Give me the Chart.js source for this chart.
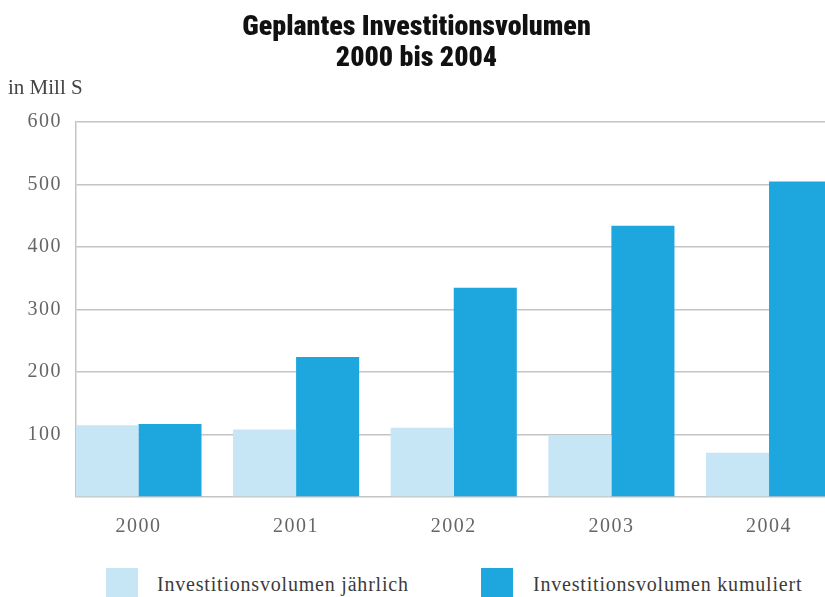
<!DOCTYPE html>
<html lang="de">
<head>
<meta charset="utf-8">
<title>Geplantes Investitionsvolumen 2000 bis 2004</title>
<script src="https://cdn.jsdelivr.net/npm/chart.js@4.4.1/dist/chart.umd.min.js"></script>
<style>
  html, body { margin: 0; padding: 0; background: #fff; overflow: hidden; }
  #wrap { position: relative; width: 825px; height: 597px; }
  #box { position: absolute; left: 0; top: 0; width: 825px; height: 545px; }
  .leg { position: absolute; font-family: 'Liberation Serif', 'DejaVu Serif', serif; font-size: 20px;
         color: #3b3b3b; letter-spacing: 0.8px; line-height: 24px; white-space: nowrap; }
  .sw { position: absolute; width: 32px; height: 32px; }
</style>
</head>
<body>
<div id="wrap">
  <div id="box"><canvas id="chart"></canvas></div>
  <div id="legend"></div>
</div>
<script>
// Werte (in Mill S)
const years = ['2000', '2001', '2002', '2003', '2004'];
const annual = [115, 108, 111, 99, 71];
const cumulative = [117, 224, 335, 434, 505];
const yTicks = [0, 100, 200, 300, 400, 500, 600];
const seriesNames = ['Investitionsvolumen jährlich', 'Investitionsvolumen kumuliert'];
const seriesColors = ['#c7e6f5', '#1ea6de'];

const serif = "'Liberation Serif', 'DejaVu Serif', serif";
const gridGrey = '#c4c4c4';

// Zahlen unter dem Diagramm etwas gesperrt wie im Original
const spacing = {
  id: 'spacing',
  beforeDraw(chart) { chart.ctx.letterSpacing = '0px'; },
  afterDatasetsDraw(chart) { chart.ctx.letterSpacing = '1.5px'; },
  afterDraw(chart) { chart.ctx.letterSpacing = '0px'; }
};

const toPoints = vals => years.map((y, i) => ({ x: Number(y), y: vals[i] }));

new Chart(document.getElementById('chart'), {
  type: 'bar',
  data: {
    datasets: [
      { label: seriesNames[0], data: toPoints(annual), backgroundColor: seriesColors[0],
        categoryPercentage: 0.8, barPercentage: 1.0, borderWidth: 0 },
      { label: seriesNames[1], data: toPoints(cumulative), backgroundColor: seriesColors[1],
        categoryPercentage: 0.8, barPercentage: 1.0, borderWidth: 0 }
    ]
  },
  options: {
    responsive: true,
    maintainAspectRatio: false,
    animation: false,
    layout: { padding: { left: 8, right: 0, top: 0, bottom: 0 } },
    plugins: {
      legend: { display: false },
      tooltip: { enabled: false },
      title: {
        display: true,
        text: ['Geplantes Investitionsvolumen', '2000 bis 2004'],
        color: '#111',
        font: { family: "Roboto, 'Noto Sans', sans-serif",
                size: 28, weight: '900 condensed', lineHeight: 1.107 },
        padding: { top: 12.5, bottom: 0 }
      },
      subtitle: {
        display: true,
        text: 'in Mill S',
        align: 'start',
        color: '#444',
        font: { family: serif, size: 21, lineHeight: 1.2 },
        padding: { top: 1, bottom: 21.4 }
      }
    },
    scales: {
      x: {
        type: 'linear',
        offset: false,
        min: 1999.604,
        max: 2004.355,
        afterBuildTicks: s => { s.ticks = years.map(y => ({ value: Number(y) })); },
        afterFit: s => { s.height = 48; },
        grid: { display: false, drawTicks: false },
        border: { display: false },
        ticks: { z: 1, padding: 18, color: '#666', font: { family: serif, size: 20 },
                 callback: v => String(v) }
      },
      y: {
        min: 0,
        max: 600,
        afterBuildTicks: s => { s.ticks = yTicks.map(v => ({ value: v })); },
        afterFit: s => { s.width = 68; },
        grid: { color: gridGrey, lineWidth: 1.5, drawTicks: false },
        border: { display: true, color: gridGrey, width: 1.5 },
        ticks: { z: 1, padding: 14, color: '#666', font: { family: serif, size: 20 },
                 callback: v => (v === 0 ? '' : String(v)) }
      }
    }
  },
  plugins: [spacing]
});

// Legende unten
const legendSpots = [{ box: 106, text: 157 }, { box: 481, text: 533 }];
const legend = document.getElementById('legend');
seriesNames.forEach((name, i) => {
  const sw = document.createElement('div');
  sw.className = 'sw';
  sw.style.left = legendSpots[i].box + 'px';
  sw.style.top = '568px';
  sw.style.background = seriesColors[i];
  legend.appendChild(sw);
  const t = document.createElement('div');
  t.className = 'leg';
  t.style.left = legendSpots[i].text + 'px';
  t.style.top = '572px';
  t.textContent = name;
  legend.appendChild(t);
});
</script>
</body>
</html>
